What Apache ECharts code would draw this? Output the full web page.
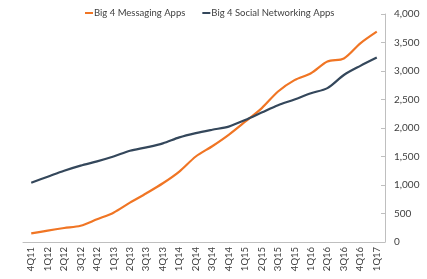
<!DOCTYPE html>
<html>
<head>
<meta charset="utf-8">
<script src="https://cdn.jsdelivr.net/npm/echarts@6/dist/echarts.min.js"></script>
<style>
  html, body { margin: 0; padding: 0; background: #fff; }
  #chart { width: 427px; height: 279px; }
</style>
</head>
<body>
<div id="chart"></div>
<script>
var quarters = ['4Q11', '1Q12', '2Q12', '3Q12', '4Q12', '1Q13', '2Q13', '3Q13', '4Q13',
  '1Q14', '2Q14', '3Q14', '4Q14', '1Q15', '2Q15', '3Q15', '4Q15',
  '1Q16', '2Q16', '3Q16', '4Q16', '1Q17']
var messaging = [150, 200, 245, 285, 400, 515, 690, 855, 1030, 1235, 1500, 1680, 1880,
  2110, 2345, 2640, 2840, 2960, 3165, 3220, 3485, 3690]
var social = [1040, 1145, 1250, 1340, 1415, 1500, 1600, 1660, 1730, 1835, 1910, 1970, 2025,
  2140, 2270, 2400, 2500, 2610, 2700, 2930, 3090, 3235]

var font = 'Lato'
var axisGrey = '#bfbfbf'
var textColor = '#404040'

var chart = echarts.init(document.getElementById('chart'))
chart.setOption({
  animation: false,
  textStyle: { fontFamily: font },
  color: ['#f07524', '#34475b'],
  legend: {
    top: 3,
    left: 80,
    icon: 'rect',
    itemWidth: 8,
    itemHeight: 2,
    itemGap: 17,
    textStyle: { fontSize: 9.5, color: textColor, fontFamily: font, padding: [0, 0, 0, -4] },
    data: ['Big 4 Messaging Apps', 'Big 4 Social Networking Apps']
  },
  grid: { left: 23, right: 42, top: 14, bottom: 37 },
  xAxis: {
    type: 'category',
    data: quarters,
    boundaryGap: true,
    axisLine: { lineStyle: { color: axisGrey } },
    axisTick: { inside: true, length: 4, lineStyle: { color: axisGrey } },
    axisLabel: { rotate: 90, interval: 0, fontSize: 9.5, color: textColor, fontFamily: font, margin: 5 },
    splitLine: { show: false }
  },
  yAxis: {
    type: 'value',
    position: 'right',
    min: 0,
    max: 4000,
    interval: 500,
    axisLine: { show: true, lineStyle: { color: axisGrey } },
    axisTick: { show: true, inside: true, length: 4, lineStyle: { color: axisGrey } },
    axisLabel: {
      fontSize: 10, color: textColor, fontFamily: font, margin: 9,
      formatter: function (v) { return v.toLocaleString('en-US') }
    },
    splitLine: { show: false }
  },
  series: [
    {
      name: 'Big 4 Messaging Apps',
      type: 'line',
      data: messaging,
      smooth: 0.3,
      showSymbol: false,
      lineStyle: { width: 2.2 }
    },
    {
      name: 'Big 4 Social Networking Apps',
      type: 'line',
      data: social,
      smooth: 0.3,
      showSymbol: false,
      lineStyle: { width: 2.2 }
    }
  ]
})
</script>
</body>
</html>
